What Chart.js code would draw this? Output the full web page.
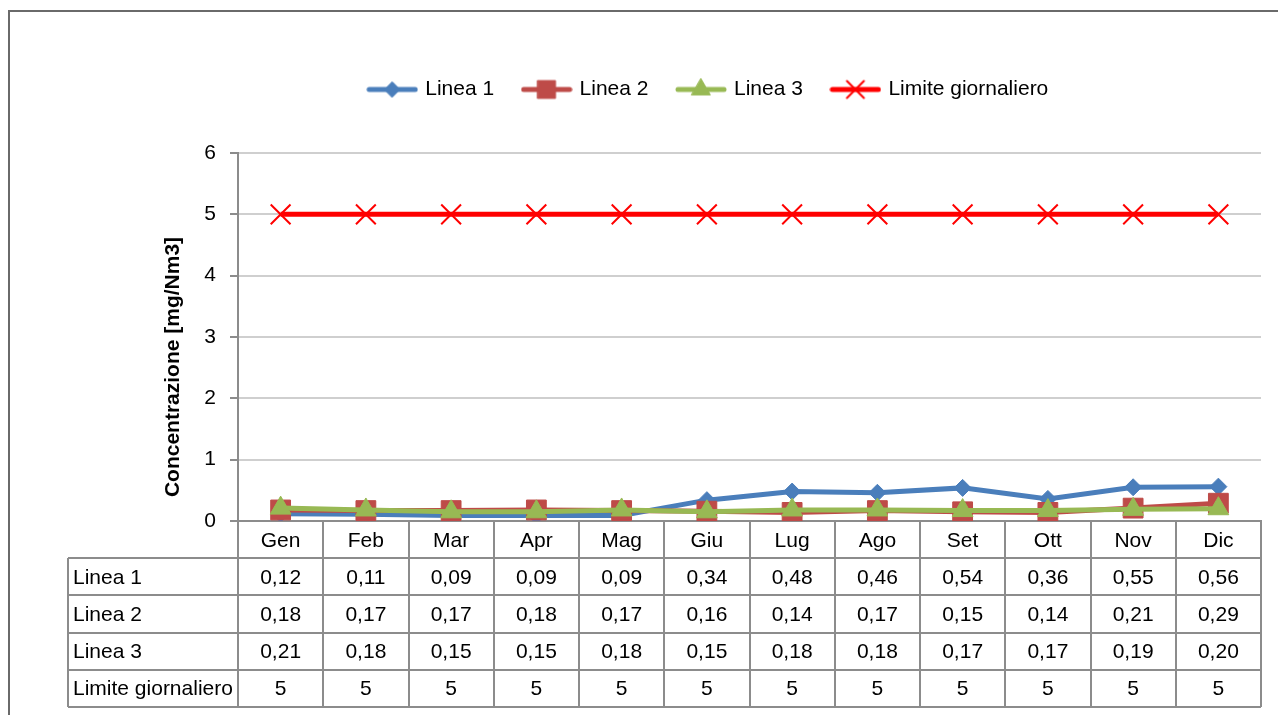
<!DOCTYPE html>
<html lang="it">
<head>
  <meta charset="UTF-8" />
  <title>Concentrazione mensile</title>
  <script src="https://cdn.jsdelivr.net/npm/chart.js"></script>
  <style>
    html, body {
      margin: 0;
      padding: 0;
      background: #fff;
      overflow: hidden;
    }
    .wrap {
      position: relative;
      width: 1278px;
      height: 715px;
    }
  </style>
</head>
<body>
  <div class="wrap"><canvas id="chart"></canvas></div>

  <script>
    const months = ['Gen', 'Feb', 'Mar', 'Apr', 'Mag', 'Giu', 'Lug', 'Ago', 'Set', 'Ott', 'Nov', 'Dic'];
    const linea1 = [0.12, 0.11, 0.09, 0.09, 0.09, 0.34, 0.48, 0.46, 0.54, 0.36, 0.55, 0.56];
    const linea2 = [0.18, 0.17, 0.17, 0.18, 0.17, 0.16, 0.14, 0.17, 0.15, 0.14, 0.21, 0.29];
    const linea3 = [0.21, 0.18, 0.15, 0.15, 0.18, 0.15, 0.18, 0.18, 0.17, 0.17, 0.19, 0.20];
    const limite = [5, 5, 5, 5, 5, 5, 5, 5, 5, 5, 5, 5];
    const yTicks = [0, 1, 2, 3, 4, 5, 6];
    const yTitle = 'Concentrazione [mg/Nm3]';

    const FONT = "'Liberation Sans', Arial, sans-serif";
    Chart.defaults.font.family = FONT;
    Chart.defaults.font.size = 21;
    Chart.defaults.color = '#000';

    const series = [
      { label: 'Linea 1', data: linea1, color: '#4a7ebb', style: 'rectRot', radius: 8.5, width: 5, order: 4 },
      { label: 'Linea 2', data: linea2, color: '#be4b48', style: 'rect', radius: 14, width: 5, order: 3 },
      { label: 'Linea 3', data: linea3, color: '#98b954', style: 'triangle', radius: 12, width: 5, order: 2 },
      { label: 'Limite giornaliero', data: limite, color: '#ff0000', style: 'crossRot', radius: 14, width: 5, order: 1 }
    ];

    // small line+marker sample for the legend
    function legendSample(s) {
      const c = document.createElement('canvas');
      c.width = 52;
      c.height = 24;
      const ctx = c.getContext('2d');
      ctx.strokeStyle = s.color;
      ctx.fillStyle = s.color;
      ctx.lineWidth = s.width;
      ctx.lineCap = 'round';
      ctx.beginPath();
      ctx.moveTo(3, 12);
      ctx.lineTo(49, 12);
      ctx.stroke();
      ctx.lineWidth = s.style === 'crossRot' ? 2 : 1;
      Chart.helpers.drawPoint(ctx, {
        pointStyle: s.style,
        radius: s.style === 'crossRot' ? 12 : s.radius * 0.9,
        rotation: 0,
        borderWidth: ctx.lineWidth
      }, 26, 12);
      return c;
    }
    const samples = series.map(legendSample);

    const fmt = v => Number.isInteger(v) ? String(v) : v.toFixed(2).replace('.', ',');

    const frame = {
      id: 'frame',
      beforeDraw(chart) {
        const ctx = chart.ctx;
        ctx.save();
        ctx.strokeStyle = '#6a6a6a';
        ctx.lineWidth = 2;
        ctx.strokeRect(9, 11, 1400, 800);
        ctx.restore();
      }
    };

    const legendGap = {
      id: 'legendGap',
      beforeInit(chart) {
        const fit = chart.legend.fit;
        chart.legend.fit = function () {
          fit.bind(chart.legend)();
          this.height += 43;
        };
      }
    };

    const dataTable = {
      id: 'dataTable',
      afterDraw(chart) {
        const ctx = chart.ctx;
        const x = chart.scales.x;
        const top = chart.chartArea.bottom;
        const right = chart.chartArea.right;
        const left = chart.chartArea.left;
        const labelLeft = 68;
        const rowH = 37.2;
        const half = (x.getPixelForValue(1) - x.getPixelForValue(0)) / 2;
        const bottom = top + rowH * 5;

        ctx.save();
        ctx.strokeStyle = '#8c8c8c';
        ctx.lineWidth = 2;
        ctx.beginPath();
        for (let r = 1; r <= 5; r++) {
          const y = Math.round(top + rowH * r);
          ctx.moveTo(labelLeft, y);
          ctx.lineTo(right, y);
        }
        ctx.moveTo(labelLeft, Math.round(top + rowH));
        ctx.lineTo(labelLeft, Math.round(bottom));
        ctx.moveTo(left, top);
        ctx.lineTo(left, Math.round(bottom));
        months.forEach((m, i) => {
          const xe = Math.round(x.getPixelForValue(i) + half);
          ctx.moveTo(xe, top);
          ctx.lineTo(xe, Math.round(bottom));
        });
        ctx.stroke();

        ctx.fillStyle = '#000';
        ctx.font = '21px ' + FONT;
        ctx.textBaseline = 'middle';
        ctx.textAlign = 'center';
        months.forEach((m, i) => {
          ctx.fillText(m, x.getPixelForValue(i), top + rowH / 2 + 2);
        });
        series.forEach((s, r) => {
          const yc = top + rowH * (r + 1) + rowH / 2 + 1;
          ctx.textAlign = 'left';
          ctx.fillText(s.label, labelLeft + 5, yc);
          ctx.textAlign = 'center';
          s.data.forEach((v, i) => {
            ctx.fillText(fmt(v), x.getPixelForValue(i), yc);
          });
        });

        // y axis title, placed like the original (a bit below the plot centre)
        ctx.save();
        ctx.translate(173, 367);
        ctx.rotate(-Math.PI / 2);
        ctx.font = 'bold 21px ' + FONT;
        ctx.textAlign = 'center';
        ctx.fillText(yTitle, 0, 0);
        ctx.restore();
        ctx.restore();
      }
    };

    new Chart(document.getElementById('chart'), {
      type: 'line',
      data: {
        labels: months,
        datasets: series.map(s => ({
          label: s.label,
          data: s.data,
          borderColor: s.color,
          backgroundColor: s.color,
          borderWidth: s.width,
          pointStyle: s.style,
          pointRadius: s.radius,
          pointBorderWidth: s.style === 'crossRot' ? 2 : 1,
          pointBackgroundColor: s.color,
          pointBorderColor: s.color,
          tension: 0,
          order: s.order
        }))
      },
      options: {
        responsive: true,
        maintainAspectRatio: false,
        animation: false,
        layout: { padding: { left: 157, right: 17, top: 49, bottom: 0 } },
        plugins: {
          tooltip: { enabled: false },
          legend: {
            position: 'top',
            labels: {
              usePointStyle: true,
              pointStyleWidth: 45,
              boxHeight: 21,
              padding: 30,
              color: '#000',
              font: { size: 21 },
              generateLabels: chart => series.map((s, i) => ({
                text: s.label,
                pointStyle: samples[i],
                datasetIndex: i,
                fillStyle: s.color,
                strokeStyle: s.color,
                lineWidth: 0,
                hidden: false
              }))
            }
          }
        },
        scales: {
          x: {
            type: 'category',
            offset: true,
            grid: { display: false },
            border: { display: true, color: '#8c8c8c', width: 2 },
            ticks: { display: false },
            afterFit: s => { s.height = 194; }
          },
          y: {
            min: 0,
            max: 6,
            afterBuildTicks: s => { s.ticks = yTicks.map(v => ({ value: v })); },
            grid: { color: '#cfcfcf', lineWidth: 2, tickColor: '#8c8c8c', tickLength: 8 },
            border: { display: true, color: '#8c8c8c', width: 2 },
            ticks: { padding: 14, color: '#000', font: { size: 21 } },
            afterFit: s => { s.width = 81; }
          }
        }
      },
      plugins: [frame, legendGap, dataTable]
    });
  </script>
</body>
</html>
